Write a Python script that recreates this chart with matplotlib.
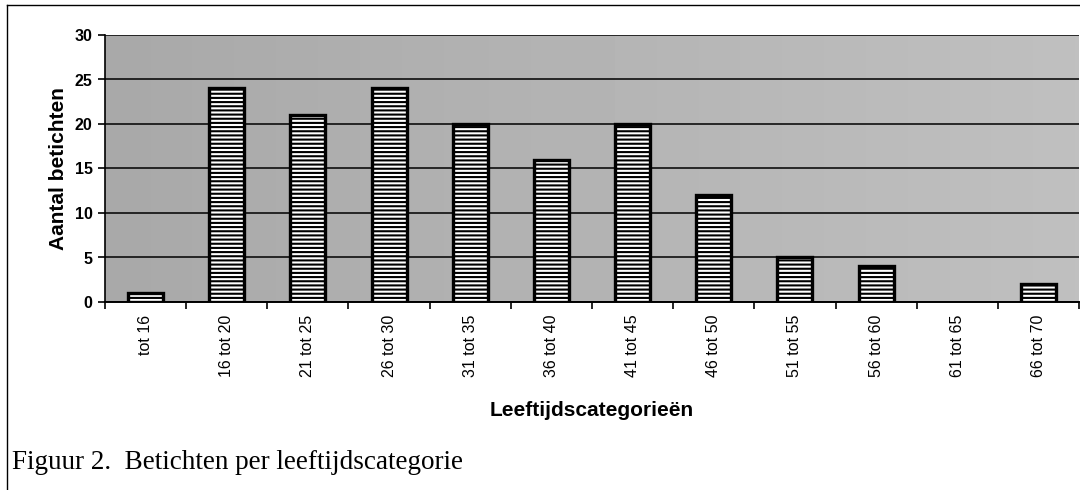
import numpy as np
import matplotlib
matplotlib.use('Agg')
import matplotlib.pyplot as plt

categories = ['tot 16', '16 tot 20', '21 tot 25', '26 tot 30', '31 tot 35', '36 tot 40',
              '41 tot 45', '46 tot 50', '51 tot 55', '56 tot 60', '61 tot 65', '66 tot 70']
aantal = [1, 24, 21, 24, 20, 16, 20, 12, 5, 4, 0, 2]

plt.rcParams['font.family'] = ['Liberation Sans', 'DejaVu Sans']
plt.rcParams['hatch.linewidth'] = 1.5

fig = plt.figure(figsize=(10.8, 4.9), dpi=100)
ax = fig.add_axes([105 / 1080, 1 - 302 / 490, (1079 - 105) / 1080, (302 - 35) / 490])

# gray background, a bit darker on the left
shade = np.linspace(0.66, 0.75, 256).reshape(1, -1)
ax.imshow(shade, cmap='gray', vmin=0, vmax=1, aspect='auto',
          extent=[-0.5, len(categories) - 0.5, 0, 30], zorder=0)

x = np.arange(len(categories))
bars = ax.bar(x, aantal, width=0.43, color='white', edgecolor='black', linewidth=2.4,
              hatch='----', zorder=3)
for b, v in zip(bars, aantal):
    if v == 0:
        b.set_visible(False)

ax.set_xlim(-0.5, len(categories) - 0.5)
ax.set_ylim(0, 30)
ax.set_yticks(range(0, 31, 5))
ax.yaxis.grid(True, color='black', linewidth=1.1, zorder=1)
ax.set_axisbelow(False)
ax.set_xticks(x)
ax.set_xticklabels(categories, rotation=90, fontsize=11.5)
ax.set_xticks(np.arange(-0.5, len(categories), 1), minor=True)
ax.tick_params(axis='x', which='major', length=0, pad=9)
ax.tick_params(axis='x', which='minor', length=5, width=1.2, direction='out')
ax.tick_params(axis='y', length=5, width=1.2, direction='out', labelsize=11.5, pad=4)
for lbl in ax.get_yticklabels():
    lbl.set_fontweight('bold')

for side in ['top', 'right']:
    ax.spines[side].set_visible(False)
ax.spines['left'].set_linewidth(1.2)
ax.spines['bottom'].set_linewidth(1.4)

ax.set_ylabel('Aantal betichten', fontsize=15, fontweight='bold', labelpad=5)
ax.set_xlabel('Leeftijdscategorieën', fontsize=15, fontweight='bold', labelpad=17)

# outer frame
fig.add_artist(plt.Line2D([7 / 1080, 7 / 1080], [0, 1 - 5 / 490], color='black', linewidth=1))
fig.add_artist(plt.Line2D([7 / 1080, 1], [1 - 5 / 490, 1 - 5 / 490], color='black', linewidth=1))

fig.text(12 / 1080, 1 - 462 / 490, 'Figuur 2.  Betichten per leeftijdscategorie',
         family='Liberation Serif', fontsize=19.5, va='center', ha='left')

fig.savefig('out.png', dpi=100)
